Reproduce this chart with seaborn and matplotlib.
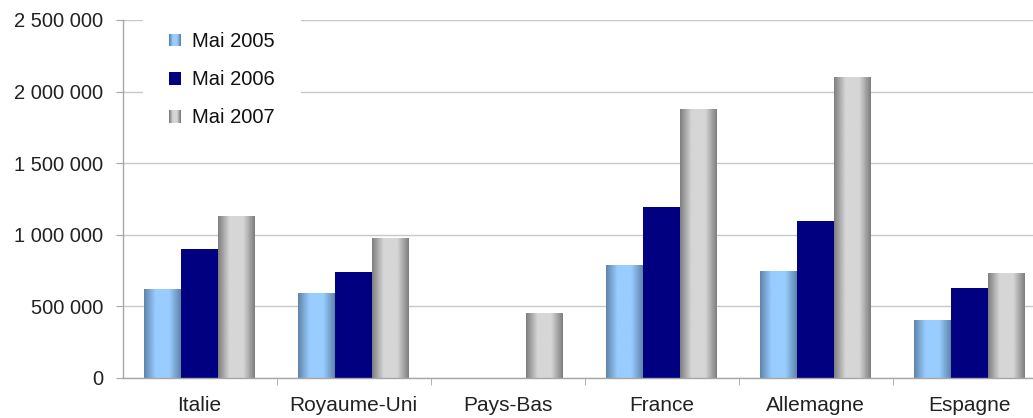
import numpy as np
import pandas as pd
import matplotlib
matplotlib.use('Agg')
import matplotlib.pyplot as plt
import matplotlib.ticker as mticker
from matplotlib.colors import LinearSegmentedColormap
from matplotlib.legend_handler import HandlerBase
from matplotlib.patches import Rectangle
import seaborn as sns

pays = ['Italie', 'Royaume-Uni', 'Pays-Bas', 'France', 'Allemagne', 'Espagne']
annees = ['Mai 2005', 'Mai 2006', 'Mai 2007']
mai_2005 = [615000, 587000, 0, 789000, 747000, 405000]
mai_2006 = [900000, 742000, 0, 1196000, 1096000, 628000]
mai_2007 = [1126000, 971000, 447000, 1878000, 2100000, 733000]

couleurs = ['#7fa8d2', '#000080', '#b0b0b0']
# edge colour / centre colour of each gradient (None = flat fill)
degrades = [('#5f85ab', '#99ccff'), None, ('#7f7f7f', '#d6d6d6')]

TAILLE = 14.5


def make_cmap(pair):
    edge, centre = pair
    return LinearSegmentedColormap.from_list('g', [edge, centre], N=256)


def gradient_row(n=64):
    x = np.linspace(0, 1, n)
    # 0 at the edges, 1 over the middle part of the bar
    return np.clip((1 - np.abs(x - 0.5) * 2) * 1.6, 0, 1)


class GradientHandler(HandlerBase):
    def __init__(self, pair, colour):
        super().__init__()
        self.pair = pair
        self.colour = colour

    def create_artists(self, legend, orig_handle, xdescent, ydescent,
                       width, height, fontsize, trans):
        if self.pair is None:
            return [Rectangle((-xdescent, -ydescent), width, height,
                              facecolor=self.colour, edgecolor='none',
                              transform=trans)]
        cmap = make_cmap(self.pair)
        n = 12
        vals = gradient_row(n)
        arts = []
        for i in range(n):
            arts.append(Rectangle((-xdescent + i * width / n, -ydescent),
                                  width / n * 1.05, height,
                                  facecolor=cmap(vals[i]),
                                  edgecolor='none', transform=trans))
        return arts


def main():
    df = pd.DataFrame({
        'pays': pays * 3,
        'annee': [a for a in annees for _ in pays],
        'valeur': mai_2005 + mai_2006 + mai_2007,
    })

    sns.set_style('white')
    plt.rcParams['font.family'] = ['Liberation Sans', 'DejaVu Sans']

    fig = plt.figure(figsize=(10.33, 4.18), dpi=100)
    # the plot area runs a little past the right edge of the picture
    ax = fig.add_axes([0.1186, 0.0957, 0.8945, 0.8565])

    sns.barplot(data=df, x='pays', y='valeur', hue='annee', order=pays,
                hue_order=annees, palette=couleurs, saturation=1,
                width=0.72, gap=0, legend=False, linewidth=0, ax=ax)

    # gradient fill inside each bar
    row = gradient_row()
    for cont, pair in zip(ax.containers, degrades):
        if pair is None:
            continue
        cmap = make_cmap(pair)
        for bar in cont.patches:
            h = bar.get_height()
            if h <= 0:
                continue
            x0 = bar.get_x()
            w = bar.get_width()
            ax.imshow(row[np.newaxis, :], cmap=cmap, vmin=0, vmax=1,
                      extent=(x0, x0 + w, 0, h), aspect='auto',
                      interpolation='bilinear', zorder=bar.get_zorder() + 0.1)

    ax.set_xlim(-0.5, 5.5)
    ax.set_ylim(0, 2500000)
    ax.set_xlabel('')
    ax.set_ylabel('')

    ax.yaxis.set_major_locator(mticker.MultipleLocator(500000))
    ax.yaxis.set_major_formatter(
        mticker.FuncFormatter(lambda v, p: f'{int(v):,}'.replace(',', ' ')))
    ax.grid(axis='y', color='#c8c8c8', linewidth=1)
    ax.set_axisbelow(True)

    for s in ['top', 'right']:
        ax.spines[s].set_visible(False)
    for s in ['left', 'bottom']:
        ax.spines[s].set_color('#a6a6a6')
        ax.spines[s].set_linewidth(1)

    ax.tick_params(axis='y', which='major', length=5, color='#a6a6a6',
                   labelsize=TAILLE, labelcolor='#222222', pad=9, left=True)
    ax.tick_params(axis='x', which='major', length=0, labelsize=15,
                   labelcolor='#222222', pad=13)
    ax.xaxis.set_minor_locator(mticker.FixedLocator(np.arange(0.5, 5, 1)))
    ax.tick_params(axis='x', which='minor', length=5, color='#a6a6a6',
                   bottom=True, direction='out')

    handles = [Rectangle((0, 0), 1, 1) for _ in annees]
    hmap = {h: GradientHandler(p, c)
            for h, p, c in zip(handles, degrades, couleurs)}
    leg = ax.legend(handles, annees, handler_map=hmap, loc='upper left',
                    bbox_to_anchor=(0.022, 1.039), frameon=True,
                    fontsize=TAILLE, handlelength=0.6, handleheight=0.6,
                    handletextpad=0.55, labelspacing=0.95, borderpad=1.3,
                    borderaxespad=0, fancybox=False)
    leg.get_frame().set_facecolor('white')
    leg.get_frame().set_edgecolor('none')
    leg.get_frame().set_alpha(1)
    for t in leg.get_texts():
        t.set_color('#111111')

    fig.savefig('out.png', dpi=100)


if __name__ == '__main__':
    main()
